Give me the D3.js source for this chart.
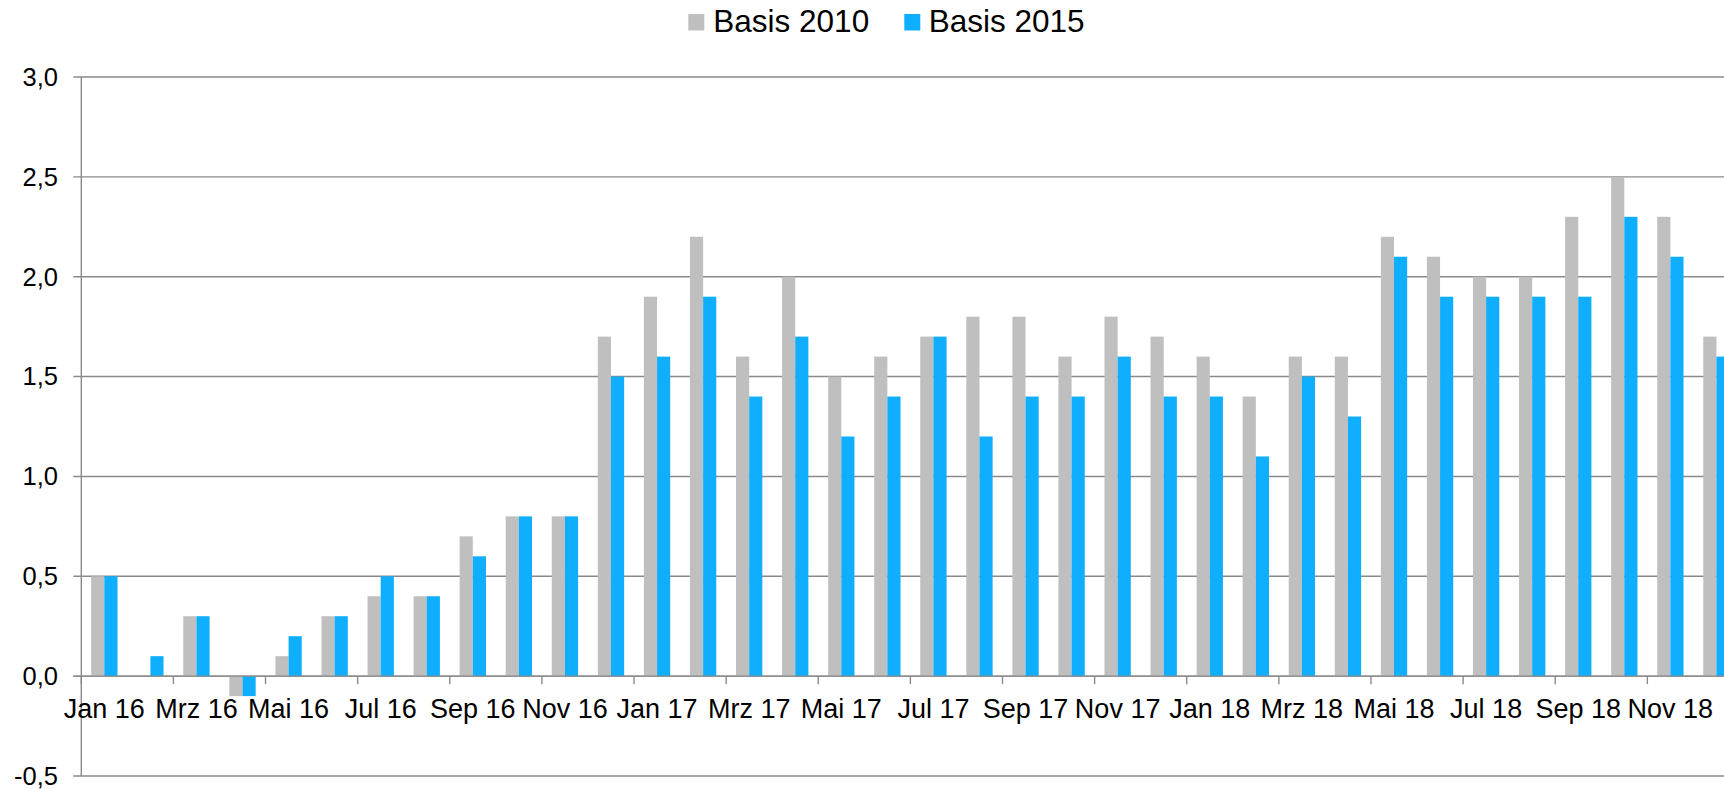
<!DOCTYPE html>
<html>
<head>
<meta charset="utf-8">
<script src="https://cdn.jsdelivr.net/npm/d3@7"></script>
<style>
  html, body { margin: 0; padding: 0; background: #fff; overflow: hidden; }
  svg { display: block; font-family: "Liberation Sans", Arial, sans-serif; }
</style>
</head>
<body>
<div id="chart"></div>
<script>
// Categories: Jan 16 .. Dez 18
const months = [
    "Jan 16", "Feb 16", "Mrz 16", "Apr 16", "Mai 16", "Jun 16", "Jul 16", "Aug 16", "Sep 16", "Okt 16", "Nov 16", "Dez 16",
    "Jan 17", "Feb 17", "Mrz 17", "Apr 17", "Mai 17", "Jun 17", "Jul 17", "Aug 17", "Sep 17", "Okt 17", "Nov 17", "Dez 17",
    "Jan 18", "Feb 18", "Mrz 18", "Apr 18", "Mai 18", "Jun 18", "Jul 18", "Aug 18", "Sep 18", "Okt 18", "Nov 18", "Dez 18"
];

// Series values
const basis2010 = [
    0.5, 0.0, 0.3, -0.1, 0.1, 0.3, 0.4, 0.4, 0.7, 0.8, 0.8, 1.7,
    1.9, 2.2, 1.6, 2.0, 1.5, 1.6, 1.7, 1.8, 1.8, 1.6, 1.8, 1.7,
    1.6, 1.4, 1.6, 1.6, 2.2, 2.1, 2.0, 2.0, 2.3, 2.5, 2.3, 1.7
];
const basis2015 = [
    0.5, 0.1, 0.3, -0.1, 0.2, 0.3, 0.5, 0.4, 0.6, 0.8, 0.8, 1.5,
    1.6, 1.9, 1.4, 1.7, 1.2, 1.4, 1.7, 1.2, 1.4, 1.4, 1.6, 1.4,
    1.4, 1.1, 1.5, 1.3, 2.1, 1.9, 1.9, 1.9, 1.9, 2.3, 2.1, 1.6
];

const seriesNames = ["Basis 2010", "Basis 2015"];
const yTicks = [-0.5, 0, 0.5, 1, 1.5, 2, 2.5, 3];

const drawChart = () => {
    const width = 1724;
    const height = 789;

    // Plot area (the right end runs past the picture edge, as in the original)
    const left = 81.3;
    const step = 46.06;
    const top = 77;
    const bottom = 776;

    // Colors
    const colors = { "Basis 2010": "#BFBFBF", "Basis 2015": "#0FAEFF" };
    const lineColor = "#8A8A8A";

    const svg = d3.select("#chart")
        .append("svg")
        .attr("width", width)
        .attr("height", height);

    const x = d3.scaleBand()
        .domain(months)
        .range([left, left + step * months.length])
        .padding(0);

    // two bars per month, gap width 150%
    const xInner = d3.scaleBand()
        .domain(seriesNames)
        .range([0, x.bandwidth()])
        .paddingInner(0)
        .paddingOuter(0.75);

    const y = d3.scaleLinear().domain([-0.5, 3]).range([bottom, top]);

    const de = d3.formatLocale({ decimal: ",", thousands: ".", grouping: [3], currency: ["", " €"], minus: "-" });
    const fmt = de.format(".1f");

    // Gridlines incl. the small ticks left of the axis
    svg.append("g")
        .selectAll("line")
        .data(yTicks)
        .enter()
        .append("line")
        .attr("x1", left - 8)
        .attr("x2", width)
        .attr("y1", d => y(d))
        .attr("y2", d => y(d))
        .attr("stroke", lineColor)
        .attr("stroke-width", 1.4);

    // Y axis labels
    svg.append("g")
        .selectAll("text")
        .data(yTicks)
        .enter()
        .append("text")
        .attr("x", 58)
        .attr("y", d => y(d))
        .attr("dy", "0.35em")
        .attr("text-anchor", "end")
        .attr("font-size", 25.5)
        .attr("fill", "#000")
        .text(d => fmt(d));

    // Bars
    const rows = months.map((m, i) => ({ month: m, "Basis 2010": basis2010[i], "Basis 2015": basis2015[i] }));

    seriesNames.forEach(name => {
        svg.append("g")
            .selectAll("rect")
            .data(rows)
            .enter()
            .append("rect")
            .attr("x", d => x(d.month) + xInner(name))
            .attr("width", xInner.bandwidth())
            .attr("y", d => Math.min(y(d[name]), y(0)))
            .attr("height", d => Math.abs(y(d[name]) - y(0)))
            .attr("fill", colors[name]);
    });

    // Y axis line
    svg.append("line")
        .attr("x1", left).attr("x2", left)
        .attr("y1", y(3)).attr("y2", y(-0.5))
        .attr("stroke", lineColor)
        .attr("stroke-width", 1.4);

    // X axis along zero
    svg.append("line")
        .attr("x1", left - 8).attr("x2", width)
        .attr("y1", y(0)).attr("y2", y(0))
        .attr("stroke", lineColor)
        .attr("stroke-width", 1.4);

    const labelMonths = months.filter((m, i) => i % 2 === 0);

    // tick marks between every second month
    svg.append("g")
        .selectAll("line")
        .data(labelMonths)
        .enter()
        .append("line")
        .attr("x1", d => x(d))
        .attr("x2", d => x(d))
        .attr("y1", y(0))
        .attr("y2", y(0) + 8)
        .attr("stroke", lineColor)
        .attr("stroke-width", 1.4);

    const xAxis = svg.append("g")
        .attr("transform", `translate(0,${y(0)})`)
        .call(d3.axisBottom(x).tickValues(labelMonths).tickSize(0));
    xAxis.select(".domain").remove();
    xAxis.selectAll("text")
        .attr("y", 41.5)
        .attr("dy", 0)
        .attr("font-size", 27)
        .attr("font-family", "\"Liberation Sans\", Arial, sans-serif")
        .attr("fill", "#000");

    // Legend
    const legendPos = [{ box: 688.3, text: 713.3 }, { box: 904.3, text: 928.7 }];
    const legend = svg.append("g");
    seriesNames.forEach((name, i) => {
        legend.append("rect")
            .attr("x", legendPos[i].box)
            .attr("y", 14)
            .attr("width", 16)
            .attr("height", 16.5)
            .attr("fill", colors[name]);
        legend.append("text")
            .attr("x", legendPos[i].text)
            .attr("y", 32.3)
            .attr("font-size", 31.5)
            .attr("fill", "#000")
            .text(name);
    });
}
drawChart();
</script>
</body>
</html>
